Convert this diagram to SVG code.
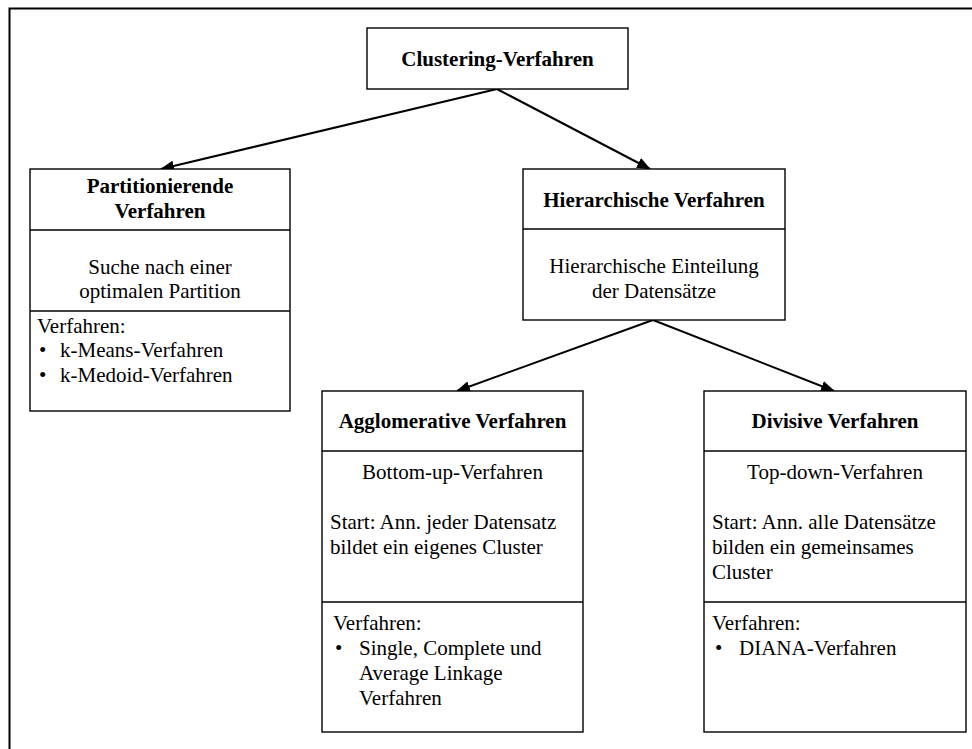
<svg xmlns="http://www.w3.org/2000/svg" width="972" height="749" viewBox="0 0 972 749">
  <style>
    .box { fill: #fff; stroke: #000; stroke-width: 1.4; }
    .div { stroke: #000; stroke-width: 1.4; }
    .frame { stroke: #000; stroke-width: 2; fill: none; }
    .edge { stroke: #000; stroke-width: 2; fill: none; marker-end: url(#arrow); }
    text { font-family: "Liberation Serif", "Times New Roman", serif; font-size: 21px; fill: #000; }
    .h { font-weight: bold; text-anchor: middle; }
    .c { text-anchor: middle; }
  </style>
  <defs>
    <marker id="arrow" markerUnits="userSpaceOnUse" markerWidth="14" markerHeight="12" refX="13" refY="5.5" orient="auto">
      <path d="M0,0 L14,5.5 L0,11 z" fill="#000"/>
    </marker>
  </defs>

  <!-- outer frame (top and left edges only) -->
  <path class="frame" d="M9.5,749 V8.5 H972"/>

  <!-- connectors -->
  <g id="connectors">
    <line class="edge" x1="497" y1="89" x2="161" y2="169"/>
    <line class="edge" x1="497" y1="89" x2="650" y2="169"/>
    <line class="edge" x1="653" y1="320" x2="457" y2="391"/>
    <line class="edge" x1="653" y1="320" x2="834" y2="391"/>
  </g>

  <!-- root -->
  <g id="clustering">
    <rect class="box" x="367" y="28" width="261" height="61"/>
    <text class="h" x="497.5" y="66">Clustering-Verfahren</text>
  </g>

  <!-- partitioning methods -->
  <g id="partitionierende">
    <rect class="box" x="30" y="169" width="260" height="242"/>
    <line class="div" x1="30" y1="230" x2="290" y2="230"/>
    <line class="div" x1="30" y1="311" x2="290" y2="311"/>
    <text class="h" x="160" y="193">Partitionierende</text>
    <text class="h" x="160" y="218">Verfahren</text>
    <text class="c" x="160" y="274">Suche nach einer</text>
    <text class="c" x="160" y="298">optimalen Partition</text>
    <text x="37" y="333">Verfahren:</text>
    <text x="39" y="357">•</text>
    <text x="60" y="357">k-Means-Verfahren</text>
    <text x="39" y="382">•</text>
    <text x="60" y="382">k-Medoid-Verfahren</text>
  </g>

  <!-- hierarchical methods -->
  <g id="hierarchische">
    <rect class="box" x="523" y="169" width="262" height="151"/>
    <line class="div" x1="523" y1="229" x2="785" y2="229"/>
    <text class="h" x="654" y="207">Hierarchische Verfahren</text>
    <text class="c" x="654" y="273">Hierarchische Einteilung</text>
    <text class="c" x="654" y="298">der Datensätze</text>
  </g>

  <!-- agglomerative -->
  <g id="agglomerative">
    <rect class="box" x="322" y="391" width="261" height="341"/>
    <line class="div" x1="322" y1="451" x2="583" y2="451"/>
    <line class="div" x1="322" y1="602" x2="583" y2="602"/>
    <text class="h" x="452.5" y="428">Agglomerative Verfahren</text>
    <text class="c" x="452.5" y="479">Bottom-up-Verfahren</text>
    <text x="330" y="529">Start: Ann. jeder Datensatz</text>
    <text x="330" y="554">bildet ein eigenes Cluster</text>
    <text x="333" y="630">Verfahren:</text>
    <text x="335" y="655">•</text>
    <text x="359" y="655">Single, Complete und</text>
    <text x="359" y="680">Average Linkage</text>
    <text x="359" y="705">Verfahren</text>
  </g>

  <!-- divisive -->
  <g id="divisive">
    <rect class="box" x="704" y="391" width="262" height="341"/>
    <line class="div" x1="704" y1="451" x2="966" y2="451"/>
    <line class="div" x1="704" y1="602" x2="966" y2="602"/>
    <text class="h" x="835" y="428">Divisive Verfahren</text>
    <text class="c" x="835" y="479">Top-down-Verfahren</text>
    <text x="712" y="529">Start: Ann. alle Datensätze</text>
    <text x="712" y="554">bilden ein gemeinsames</text>
    <text x="712" y="579">Cluster</text>
    <text x="712" y="630">Verfahren:</text>
    <text x="715" y="655">•</text>
    <text x="739" y="655">DIANA-Verfahren</text>
  </g>
</svg>
